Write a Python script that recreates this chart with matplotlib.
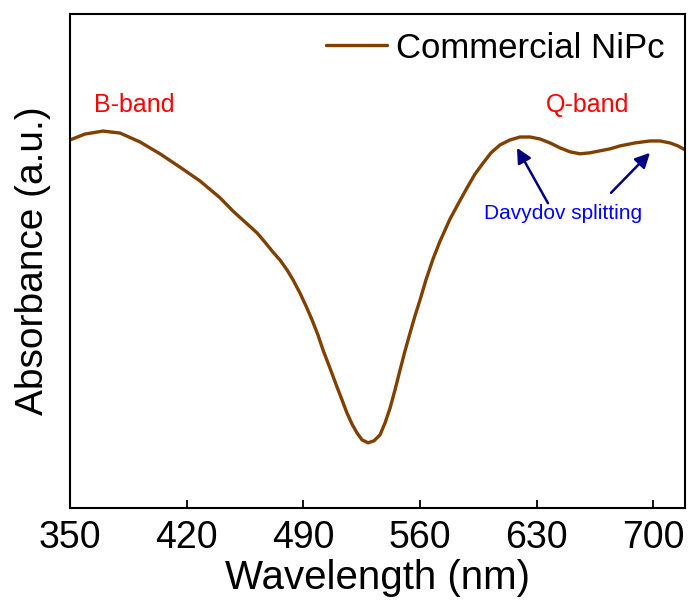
import matplotlib
matplotlib.use("Agg")
import matplotlib.pyplot as plt

plt.rcParams['font.family'] = ['Liberation Sans', 'DejaVu Sans']

wavelength = [350, 359, 369.8, 380, 392, 404, 416, 428, 440, 447.8, 455, 462.2, 467, 471.8,
              476, 480.2, 483.8, 488, 491.6, 495.2, 498.8, 501.8, 506, 510.2, 513.2, 516.2,
              519.2, 522.2, 525.2, 528.8, 532.4, 536, 539, 542, 545, 548, 551, 554, 557,
              560, 563.6, 567.8, 572, 578, 582.8, 588.2, 593, 597.8, 602.6, 608, 614, 620,
              626, 632, 638, 644, 650, 656, 662, 668, 674, 680, 689, 698, 704, 710, 714.8, 719]
absorbance = [0.745, 0.757, 0.763, 0.759, 0.741, 0.717, 0.690, 0.662, 0.628, 0.601, 0.579,
              0.557, 0.538, 0.518, 0.502, 0.482, 0.462, 0.435, 0.409, 0.381, 0.350, 0.320,
              0.283, 0.245, 0.219, 0.192, 0.170, 0.152, 0.138, 0.132, 0.136, 0.148, 0.172,
              0.202, 0.239, 0.279, 0.318, 0.354, 0.389, 0.421, 0.462, 0.504, 0.540, 0.585,
              0.615, 0.648, 0.676, 0.698, 0.719, 0.735, 0.745, 0.751, 0.751, 0.747, 0.739,
              0.729, 0.721, 0.717, 0.719, 0.723, 0.727, 0.733, 0.739, 0.743, 0.743, 0.739,
              0.733, 0.725]
xticks = [350, 420, 490, 560, 630, 700]
series_label = "Commercial NiPc"

fig = plt.figure(figsize=(6.88, 6.10), dpi=100)
ax = fig.add_axes([70/688, 1-508/610, 615/688, 494/610])

ax.plot(wavelength, absorbance, color='#804000', lw=2.4, label=series_label,
        solid_joinstyle='round', solid_capstyle='round')
ax.set_xlim(350, 719)
ax.set_ylim(0, 1)
ax.set_xticks(xticks)
ax.set_yticks([])
ax.tick_params(axis='x', direction='in', length=6, width=1.3, labelsize=27, pad=9, top=False)
for s in ax.spines.values():
    s.set_linewidth(1.5)

ax.set_xlabel("Wavelength (nm)", fontsize=29, labelpad=2)
ax.set_ylabel("Absorbance (a.u.)", fontsize=28, labelpad=14)

leg = ax.legend(loc='center right', bbox_to_anchor=(0.966, 0.931), frameon=False,
                fontsize=25, handlelength=1.75, handletextpad=0.25,
                borderpad=0, borderaxespad=0)

ax.text(388.7, 0.816, "B-band", color='red', fontsize=18, ha='center', va='center')
ax.text(660.8, 0.816, "Q-band", color='red', fontsize=18, ha='center', va='center')
ax.text(645.8, 0.597, "Davydov splitting", color='blue', fontsize=15, ha='center', va='center')

arrow_kw = dict(arrowstyle='-|>', color='#000080', lw=1.8, mutation_scale=22, shrinkA=0, shrinkB=0)
ax.annotate("", xy=(618.2, 0.729), xytext=(636.8, 0.617), arrowprops=arrow_kw)
ax.annotate("", xy=(698, 0.719), xytext=(674.6, 0.638), arrowprops=arrow_kw)

fig.savefig("out.png", dpi=100)
